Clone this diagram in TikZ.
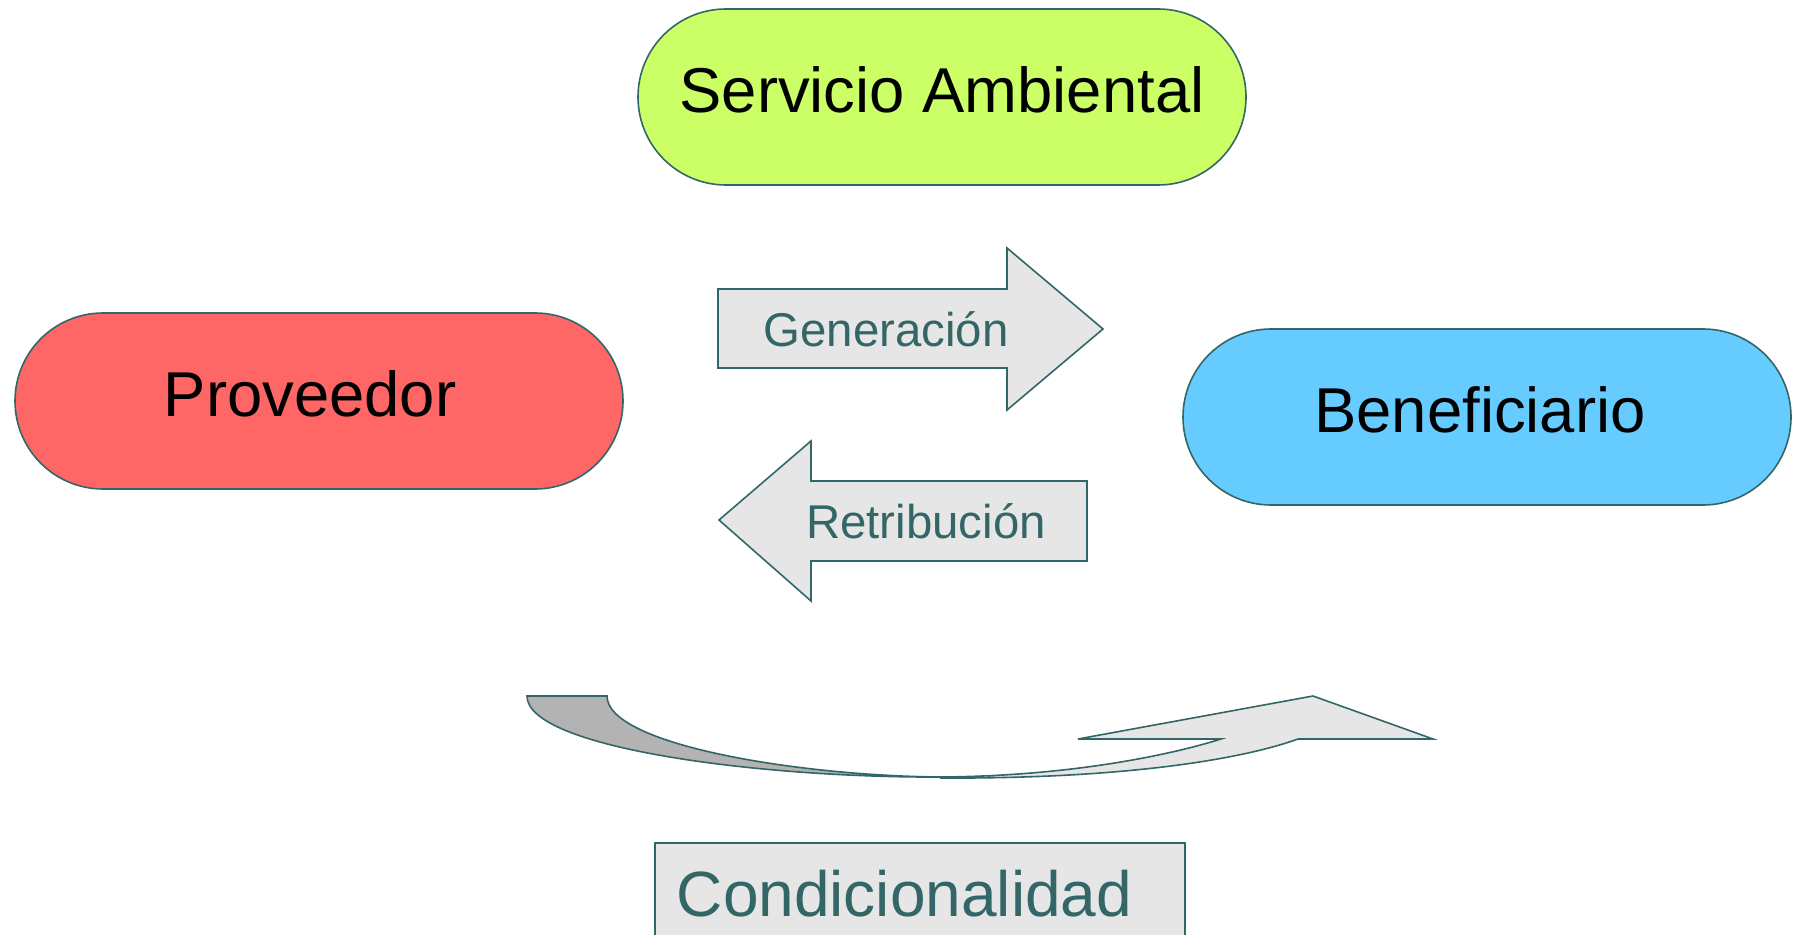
\documentclass[tikz,border=0pt]{standalone}
\usepackage{fontspec}
\setmainfont{Liberation Sans}
\usepackage{tikz}
\usetikzlibrary{positioning}
\definecolor{edgeteal}{HTML}{336666}
\definecolor{limefill}{HTML}{CCFF66}
\definecolor{redfill}{HTML}{FF6666}
\definecolor{bluefill}{HTML}{66CCFF}
\definecolor{arrowgray}{HTML}{E6E6E6}
\definecolor{backgray}{HTML}{B3B3B3}

\tikzset{
  pill/.style={draw=edgeteal, line width=0.8pt, rounded corners=44pt,
    minimum width=304pt, minimum height=88pt, text depth=7pt,
    font=\fontsize{31.7}{36}\selectfont},
  blockarrow/.style={draw=edgeteal, fill=arrowgray, line width=0.8pt},
  arrowtext/.style={text=edgeteal, font=\fontsize{23.7}{28}\selectfont},
  condbox/.style={draw=edgeteal, fill=arrowgray, line width=0.8pt,
    anchor=north west, inner xsep=11pt, inner ysep=0pt, text width=243pt,
    align=left, text height=37pt, text depth=30pt, text=edgeteal,
    font=\fontsize{32}{38}\selectfont}
}

\begin{document}
\begin{tikzpicture}[x=0.5pt,y=-0.5pt]

  \clip (0,0) rectangle (1793,935);

  %% the three parties
  \node[pill, fill=limefill] (servicio) at (942,97) {Servicio Ambiental};
  \node[pill, fill=redfill] (proveedor) at (319,401) {Proveedor\kern9pt};
  \node[pill, fill=bluefill] (beneficiario) at (1487,417) {Beneficiario\kern7pt};

  %% generacion, pointing right
  \draw[blockarrow] (718,289) -- (1007,289) -- (1007,248) -- (1103,329)
    -- (1007,410) -- (1007,368) -- (718,368) -- cycle;
  \node[arrowtext] (generacion) at (886,329) {Generación};

  %% retribucion, pointing left
  \draw[blockarrow] (719,520) -- (811,441) -- (811,481) -- (1087,481)
    -- (1087,561) -- (811,561) -- (811,601) -- cycle;
  \node[arrowtext] (retribucion) at (926,521) {Retribución};

  %% twisted arrow: back side, then front side with head
  \draw[blockarrow, fill=backgray] (527,696) -- (607,696)
    .. controls (607,745) and (800,776) .. (941,777)
    .. controls (760,778) and (527,748) .. (527,696) -- cycle;
  \draw[blockarrow] (941,777)
    .. controls (1080,776) and (1180,752) .. (1221,739)
    -- (1078,739) -- (1313,696) -- (1433,739) -- (1298,739)
    .. controls (1240,760) and (1120,779) .. (941,778) -- cycle;

  %% condicionalidad
  \node[condbox] (condicion) at (654,842) {Condicionalidad};

\end{tikzpicture}
\end{document}
